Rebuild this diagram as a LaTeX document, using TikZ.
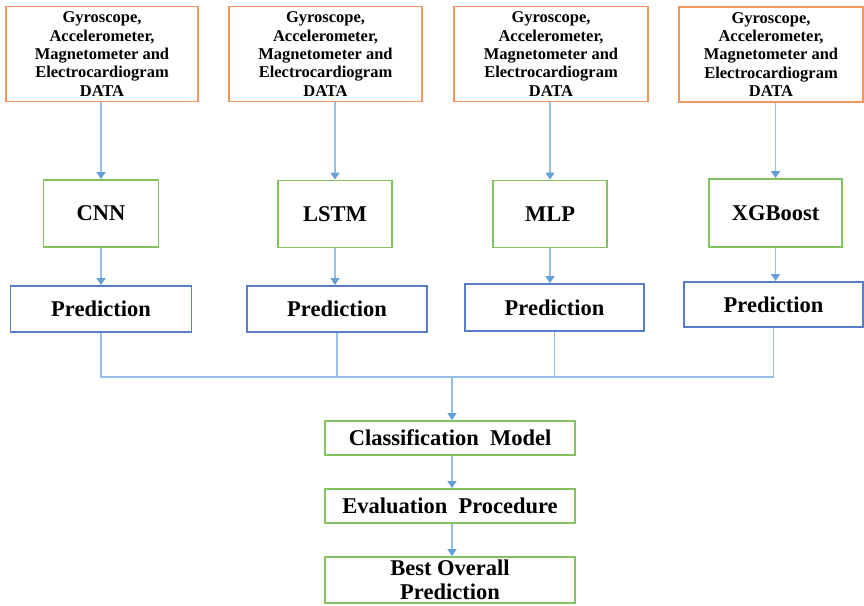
\documentclass[tikz,border=0pt]{standalone}
\usepackage{fontspec}
\setmainfont{Liberation Serif}
\usetikzlibrary{arrows.meta}

\definecolor{naranja}{RGB}{240,150,95}
\definecolor{verde}{RGB}{130,195,95}
\definecolor{azul}{RGB}{85,125,200}
\definecolor{flecha}{RGB}{100,160,215}
\definecolor{linea}{RGB}{150,190,230}

\begin{document}
\begin{tikzpicture}[x=1pt,y=-1pt,
    datos/.style={draw=naranja,line width=1.8pt,minimum width=192pt,minimum height=95pt,
        inner sep=0pt,align=center,font=\fontsize{16.5}{18.3}\selectfont\bfseries},
    modelo/.style={draw=verde,line width=1.8pt,minimum width=114pt,minimum height=67pt,
        inner sep=0pt,font=\fontsize{22.5}{25}\selectfont\bfseries},
    pred/.style={draw=azul,line width=1.8pt,minimum width=180pt,minimum height=46pt,
        inner sep=0pt,font=\fontsize{22.5}{25}\selectfont\bfseries},
    etapa/.style={draw=verde,line width=1.8pt,minimum width=250pt,minimum height=34pt,
        inner sep=0pt,align=center,font=\fontsize{22.5}{25}\selectfont\bfseries},
    flujo/.style={draw=linea,line width=1.4pt,-{Triangle[width=9pt,length=7pt,color=flecha]}},
    conexion/.style={draw=linea,line width=1.4pt}]

            \useasboundingbox (0,0) rectangle (864,605);

            % Datos de entrada
            \node[datos] (d1) at (102,54) {Gyroscope,\\Accelerometer,\\Magnetometer and\\Electrocardiogram\\DATA};
            \node[datos,minimum width=193pt] (d2) at (325.5,54) {Gyroscope,\\Accelerometer,\\Magnetometer and\\Electrocardiogram\\DATA};
            \node[datos,minimum width=194pt] (d3) at (551,54) {Gyroscope,\\Accelerometer,\\Magnetometer and\\Electrocardiogram\\DATA};
            \node[datos,minimum width=184pt] (d4) at (771,54.5) {Gyroscope,\\Accelerometer,\\Magnetometer and\\Electrocardiogram\\DATA};

            % Modelos
            \node[modelo,minimum width=115pt] (m1) at (101,213.5) {CNN};
            \node[modelo] (m2) at (335,214) {LSTM};
            \node[modelo] (m3) at (550,214) {MLP};
            \node[modelo,minimum width=133pt,minimum height=68pt] (m4) at (775.5,213) {XGBoost};

            % Predicciones
            \node[pred,minimum width=181pt] (p1) at (101,309) {Prediction};
            \node[pred] (p2) at (337,309) {Prediction};
            \node[pred,minimum width=179pt,minimum height=47pt] (p3) at (554.5,307.5) {Prediction};
            \node[pred,minimum width=179pt,minimum height=45pt] (p4) at (773.5,304.5) {Prediction};

            % Etapas finales
            \node[etapa] (cm) at (450,438) {Classification\ \ Model};
            \node[etapa] (ev) at (450,506) {Evaluation\ \ Procedure};
            \node[etapa,minimum height=46pt,font=\fontsize{22.5}{24.5}\selectfont\bfseries] (bo) at (450,580) {Best Overall\\Prediction};

            % Flechas
            \draw[flujo] (m1 |- d1.south) -- (m1.north);
            \draw[flujo] (m2 |- d2.south) -- (m2.north);
            \draw[flujo] (m3 |- d3.south) -- (m3.north);
            \draw[flujo] (m4 |- d4.south) -- (m4.north);
            \draw[flujo] (m1.south) -- (m1 |- p1.north);
            \draw[flujo] (m2.south) -- (m2 |- p2.north);
            \draw[flujo] (m3.south) -- (m3 |- p3.north);
            \draw[flujo] (m4.south) -- (m4 |- p4.north);

            % Union de predicciones
            \coordinate (bus) at (452,377);
            \draw[conexion] (p1.south) -- (p1 |- bus) -- (p4 |- bus) -- (p4.south);
            \draw[conexion] (p2.south) -- (p2 |- bus);
            \draw[conexion] (p3.south) -- (p3 |- bus);
            \draw[flujo] (bus) -- (bus |- cm.north);
            \draw[flujo] (cm.south -| bus) -- (ev.north -| bus);
            \draw[flujo] (ev.south -| bus) -- (bo.north -| bus);
        \end{tikzpicture}
\end{document}
